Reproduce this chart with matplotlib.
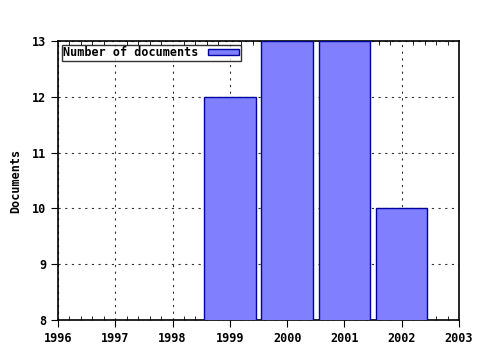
import matplotlib
matplotlib.use('Agg')
import matplotlib.pyplot as plt
from matplotlib.ticker import MultipleLocator

years = [1999, 2000, 2001, 2002]
docs = [12, 13, 13, 10]
xticks = list(range(1996, 2004))
yticks = list(range(8, 14))

plt.rcParams['font.family'] = 'DejaVu Sans Mono'
plt.rcParams['font.weight'] = 'bold'
plt.rcParams['axes.labelweight'] = 'bold'
plt.rcParams['font.size'] = 8.5

fig = plt.figure(figsize=(4.8, 3.5), dpi=100)
ax = fig.add_axes([58/480, 1-320/350, (459-58)/480, (320-41)/350])

ax.bar(years, docs, width=0.9, color='#8080ff', edgecolor='#0000a0',
       linewidth=1.0, label='Number of documents', zorder=3)

ax.set_xlim(1996, 2003)
ax.set_ylim(8, 13)
ax.set_xticks(xticks)
ax.set_xticklabels([str(y) for y in xticks])
ax.set_yticks(yticks)
ax.xaxis.set_minor_locator(MultipleLocator(0.2))
ax.tick_params(axis='x', which='major', direction='out', length=5, top=False)
ax.tick_params(axis='x', which='minor', direction='in', length=3, top=True, bottom=True)
ax.tick_params(axis='y', which='major', direction='out', length=5)
ax.grid(True, which='major', linestyle=(0, (2, 4)), color='#333333', linewidth=0.8, zorder=0)
for s in ax.spines.values():
    s.set_linewidth(1.2)

ax.set_ylabel('Documents', labelpad=7)

leg = ax.legend(loc='upper left', markerfirst=False, fancybox=False,
                frameon=True, borderaxespad=0.3, borderpad=0.15,
                handlelength=2.6, handleheight=0.5, handletextpad=0.8)
leg.get_frame().set_edgecolor('black')
leg.get_frame().set_linewidth(1.0)

plt.savefig('out.png', dpi=100)
